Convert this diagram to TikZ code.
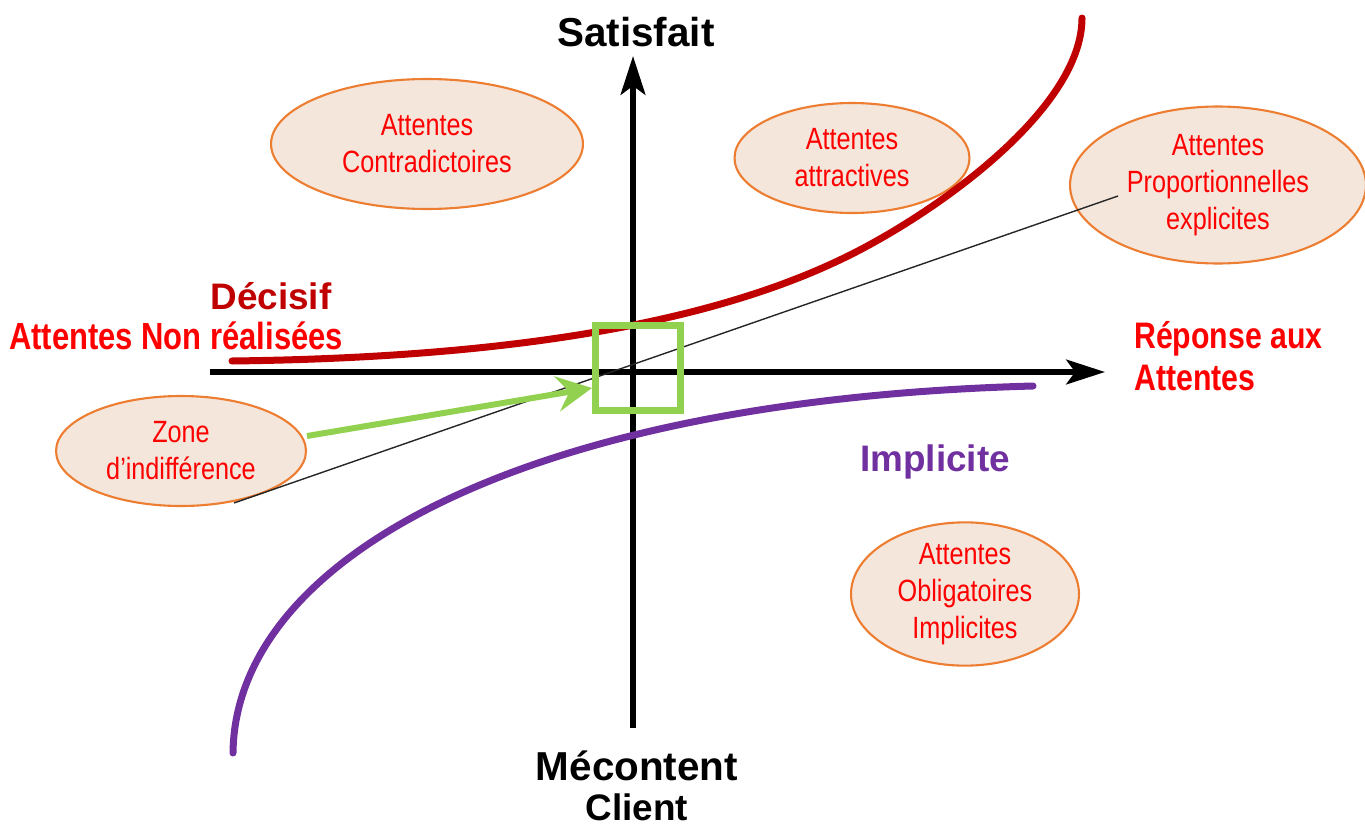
\documentclass[tikz,border=0pt]{standalone}
\usepackage{fontspec}
\setmainfont{Liberation Sans}
\newfontfamily\narrowfont[FakeStretch=0.82]{Liberation Sans}
\usetikzlibrary{shapes.geometric,arrows.meta}
\definecolor{rougefonce}{HTML}{C00000}
\definecolor{rougetexte}{HTML}{FF0000}
\definecolor{violetimpl}{HTML}{7030A0}
\definecolor{vertzone}{HTML}{92D050}
\definecolor{orangebord}{HTML}{ED7D31}
\definecolor{fondbulle}{HTML}{F5E6DC}
\tikzset{
  attente/.style={ellipse,draw=orangebord,fill=fondbulle,line width=1.2pt,inner sep=0pt,
    text=rougetexte,align=center,font=\narrowfont\fontsize{17.5}{21}\selectfont},
  titre/.style={font=\bfseries\fontsize{23}{27}\selectfont},
  etiquette/.style={font=\narrowfont\bfseries\fontsize{21.5}{24}\selectfont,text=rougetexte},
  axe/.style={line width=0.12cm,-{Stealth[length=22pt,width=14pt,inset=5pt]}},
  courbe/.style={line width=0.14cm,line cap=round}
}
\begin{document}
\begin{tikzpicture}[x=0.02cm,y=-0.02cm]
\useasboundingbox (0,0) rectangle (1365,828);

\coordinate (xdeb) at (210,372);
\coordinate (xfin) at (1105,372);
\coordinate (ydeb) at (633,728);
\coordinate (yfin) at (633,56);
\draw [axe] (xdeb) -- (xfin);
\draw [axe] (ydeb) -- (yfin);

\node [titre] (satis) at (636,32) {Satisfait};
\node [titre] (mecont) at (637,766) {Mécontent};
\node [titre,font=\bfseries\fontsize{21}{25}\selectfont] (client) at (637,807) {Client};

\node [attente,minimum width=6.24cm,minimum height=2.6cm] (contra) at (427,144) {Attentes\\Contradictoires};
\node [attente,minimum width=4.7cm,minimum height=2.2cm] (attract) at (852,158) {Attentes\\attractives};
\node [attente,minimum width=5.92cm,minimum height=3.14cm] (propor) at (1218,185) {Attentes\\Proportionnelles\\explicites};
\node [attente,minimum width=5.0cm,minimum height=2.2cm] (zone) at (181,451) {Zone\\d’indifférence};
\node [attente,minimum width=4.56cm,minimum height=2.82cm] (oblig) at (965,594) {Attentes\\Obligatoires\\Implicites};

\draw [courbe,rougefonce] (232,361) .. controls (480,358) and (700,330) .. (850,255)
  .. controls (940,210) and (1082,108) .. (1082,18);
\draw [courbe,violetimpl] (233,753) .. controls (235,560) and (520,400) .. (1033,386);

\coordinate (diagbas) at (234,503);
\coordinate (diaghaut) at (1118,196);
\draw [line width=0.8pt,black!85] (diagbas) -- (diaghaut);

\node [font=\bfseries\fontsize{21}{25}\selectfont,text=rougefonce] (decisif) at (271,296) {Décisif};
\node [etiquette] (nonreal) at (176,336) {Attentes Non réalisées};
\node [etiquette,font=\narrowfont\bfseries\fontsize{21}{24}\selectfont,anchor=west,align=left] (reponse) at (1128,356) {Réponse aux\\Attentes};
\node [font=\bfseries\fontsize{21}{25}\selectfont,text=violetimpl] (implic) at (935,462) {Implicite};

\node [draw=vertzone,line width=0.14cm,minimum size=1.7cm,inner sep=0pt] (zonebox) at (638,368) {};
\draw [vertzone,line width=0.12cm,-{Stealth[length=20pt,width=20pt,inset=7pt]}] ([yshift=0.3cm]zone.east) -- ([yshift=-0.4cm]zonebox.west);
\end{tikzpicture}
\end{document}
